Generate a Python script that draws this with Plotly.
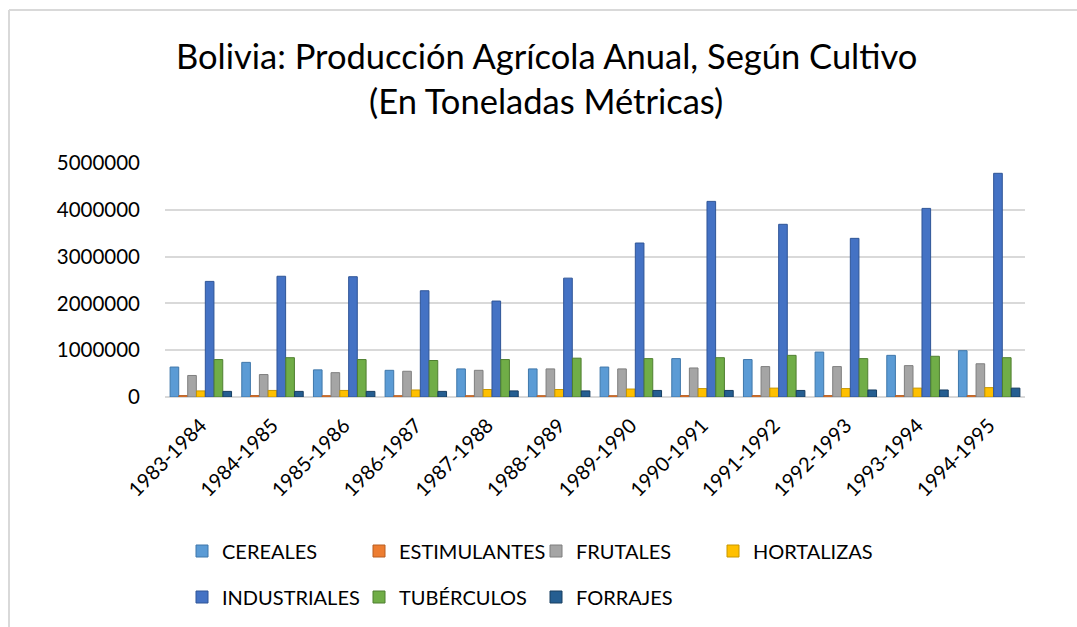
import plotly.graph_objects as go

periodos = ["1983-1984", "1984-1985", "1985-1986", "1986-1987", "1987-1988", "1988-1989",
            "1989-1990", "1990-1991", "1991-1992", "1992-1993", "1993-1994", "1994-1995"]

cereales = [640000, 740000, 580000, 570000, 600000, 600000, 640000, 820000, 800000, 960000, 890000, 990000]
estimulantes = [30000, 30000, 28000, 28000, 28000, 28000, 28000, 30000, 30000, 30000, 30000, 30000]
frutales = [460000, 480000, 520000, 550000, 570000, 600000, 600000, 620000, 650000, 650000, 670000, 710000]
hortalizas = [130000, 140000, 140000, 150000, 160000, 160000, 170000, 180000, 190000, 180000, 190000, 200000]
industriales = [2470000, 2580000, 2570000, 2270000, 2050000, 2540000, 3290000, 4180000, 3690000, 3390000, 4030000, 4780000]
tuberculos = [800000, 840000, 800000, 780000, 800000, 830000, 820000, 840000, 890000, 820000, 870000, 840000]
forrajes = [120000, 120000, 120000, 120000, 130000, 130000, 140000, 140000, 140000, 150000, 150000, 190000]

series_names = ["CEREALES", "ESTIMULANTES", "FRUTALES", "HORTALIZAS", "INDUSTRIALES", "TUBÉRCULOS", "FORRAJES"]
series_values = [cereales, estimulantes, frutales, hortalizas, industriales, tuberculos, forrajes]
colors = ["#5B9BD5", "#ED7D31", "#A5A5A5", "#FFC000", "#4472C4", "#70AD47", "#255E91"]
edge_colors = ["#3F77AA", "#B85F22", "#7F7F7F", "#C79600", "#2F5597", "#4F7F30", "#183E61"]
legend_ids = ["legend", "legend", "legend", "legend", "legend2", "legend2", "legend2"]

FONT = "Lato, sans-serif"

W, H = 1077, 627
ML, MR, MT, MB = 165, 52, 163, 230
PW = W - ML - MR
PH = H - MT - MB

def px_x(x):
    return (x - ML) / PW

def px_y(y):
    return (H - MB - y) / PH

fig = go.Figure()
for name, vals, c, ec, lg in zip(series_names, series_values, colors, edge_colors, legend_ids):
    fig.add_trace(go.Bar(
        x=periodos, y=vals, name=name, legend=lg,
        marker=dict(color=c, line=dict(color=ec, width=1)),
    ))

fig.update_layout(
    width=W, height=H,
    margin=dict(l=ML, r=MR, t=MT, b=MB, autoexpand=False),
    paper_bgcolor="white", plot_bgcolor="white",
    barmode="group", bargap=0.14, bargroupgap=0.02,
    font=dict(family=FONT, color="#000000"),
    xaxis=dict(tickangle=-45, tickfont=dict(size=20, family=FONT, color="#000000"),
               showline=False, showgrid=False, ticks="", ticklabelstandoff=12),
    yaxis=dict(range=[0, 5000000], dtick=1000000, tickformat="d",
               tickfont=dict(size=20.5, family=FONT, color="#000000"),
               showgrid=True, gridcolor="#D9D9D9", gridwidth=2,
               zeroline=True, zerolinecolor="#D9D9D9", zerolinewidth=2,
               showline=False, ticks="", ticklabelstandoff=24),
    legend=dict(orientation="h", x=px_x(182), y=px_y(551), xanchor="left", yanchor="middle",
                entrywidth=132, entrywidthmode="pixels",
                font=dict(size=20, family=FONT, color="#000000"), bgcolor="rgba(0,0,0,0)"),
    legend2=dict(orientation="h", x=px_x(182), y=px_y(597), xanchor="left", yanchor="middle",
                 entrywidth=132, entrywidthmode="pixels",
                 font=dict(size=20, family=FONT, color="#000000"), bgcolor="rgba(0,0,0,0)"),
    showlegend=True,
)

fig.add_annotation(text="Bolivia: Producción Agrícola Anual, Según Cultivo", xref="paper", yref="paper",
                   x=px_x(546), y=px_y(55), xanchor="center", yanchor="middle", showarrow=False,
                   font=dict(size=34.5, family=FONT, color="#000000"))
fig.add_annotation(text="(En Toneladas Métricas)", xref="paper", yref="paper",
                   x=px_x(546), y=px_y(100), xanchor="center", yanchor="middle", showarrow=False,
                   font=dict(size=34.5, family=FONT, color="#000000"))

# outer frame (top and left edges visible)
fig.add_shape(type="line", xref="paper", yref="paper", x0=px_x(9), x1=px_x(1077), y0=px_y(10), y1=px_y(10),
              line=dict(color="#D9D9D9", width=2))
fig.add_shape(type="line", xref="paper", yref="paper", x0=px_x(9), x1=px_x(9), y0=px_y(10), y1=px_y(627),
              line=dict(color="#D9D9D9", width=2))

fig.write_html("out.html", config={"displayModeBar": False},
               post_script="document.body.style.margin='0';document.body.style.overflow='hidden';")
